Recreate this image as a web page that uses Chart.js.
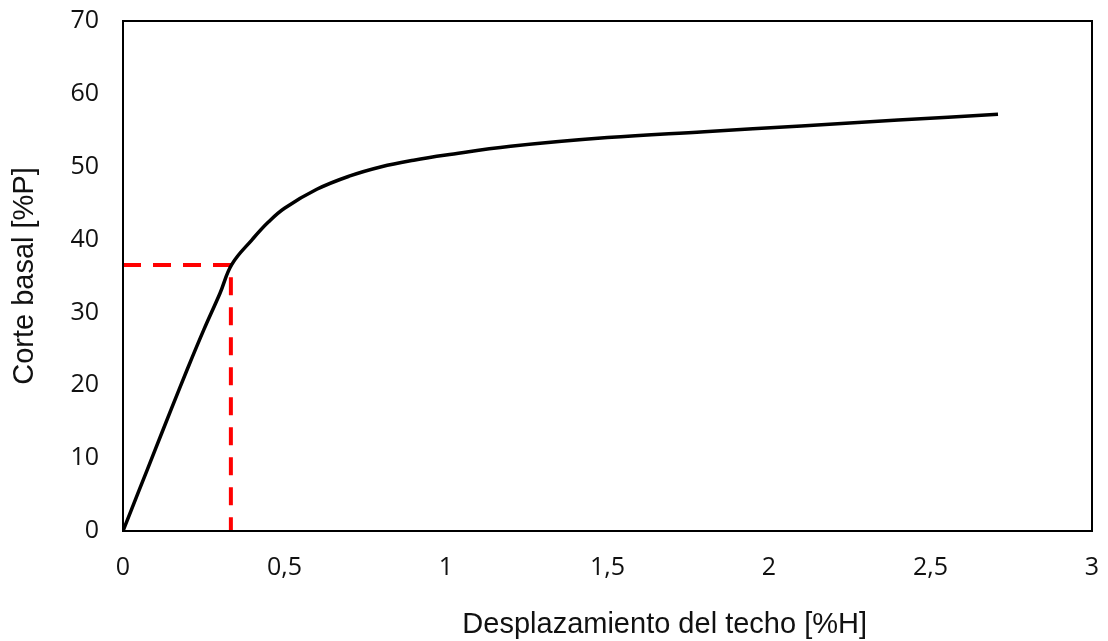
<!DOCTYPE html>
<html>
<head>
<meta charset="utf-8">
<script src="https://cdn.jsdelivr.net/npm/chart.js"></script>
<style>
  html, body { margin: 0; padding: 0; background: #fff; }
  #wrap { width: 1108px; height: 641px; }
</style>
</head>
<body>
<div id="wrap"><canvas id="curva"></canvas></div>
<script>
// curva de capacidad (pushover)
var desplazamiento = [0, 0.05, 0.1, 0.15, 0.2, 0.25, 0.3, 0.337, 0.4, 0.45, 0.5, 0.6, 0.7, 0.8, 0.9, 1.0, 1.2, 1.5, 1.8, 2.1, 2.4, 2.709];
var corte = [0, 5.6, 11.2, 16.8, 22.3, 27.6, 32.6, 36.6, 40.0, 42.4, 44.3, 46.9, 48.7, 50.0, 50.9, 51.6, 52.8, 54.0, 54.8, 55.6, 56.4, 57.2];
// punto de fluencia (linea roja)
var fluenciaX = [0, 0.334, 0.334];
var fluenciaY = [36.5, 36.5, 0];
var yTicks = [0, 10, 20, 30, 40, 50, 60, 70];
var xTicks = [0, 0.5, 1, 1.5, 2, 2.5, 3];
var tituloX = 'Desplazamiento del techo [%H]';

function toPoints(xs, ys) {
    var pts = [];
    for (var i = 0; i < xs.length; i++) {
        pts.push({ x: xs[i], y: ys[i] });
    }
    return pts;
}

var tickFont = "'Open Sans', sans-serif";
var titleFont = "'Liberation Sans', Arial, sans-serif";

// marco negro alrededor del area de trazado + titulo del eje x
// (en el original el titulo no esta centrado bajo el area)
var marco = {
    id: 'marco',
    afterDraw: function (chart) {
        var a = chart.chartArea;
        var ctx = chart.ctx;
        ctx.save();
        ctx.strokeStyle = '#000';
        ctx.lineWidth = 2;
        ctx.strokeRect(a.left, a.top, a.right - a.left, a.bottom - a.top);

        ctx.fillStyle = '#111';
        ctx.font = '29px ' + titleFont;
        ctx.textAlign = 'center';
        ctx.textBaseline = 'middle';
        var cx = a.left + (a.right - a.left) * 0.559;
        ctx.fillText(tituloX, cx, chart.height - 16);
        ctx.restore();
    }
};

function sinPadding(scale) {
    scale.paddingTop = 0;
    scale.paddingBottom = 0;
    scale.paddingLeft = 0;
    scale.paddingRight = 0;
}

var ctx = document.getElementById('curva').getContext('2d');
new Chart(ctx, {
    type: 'scatter',
    data: {
        datasets: [
            {
                data: toPoints(desplazamiento, corte),
                showLine: true,
                borderColor: '#000',
                borderWidth: 3.5,
                pointRadius: 0,
                tension: 0.4,
                fill: false
            },
            {
                data: toPoints(fluenciaX, fluenciaY),
                showLine: true,
                borderColor: '#ff0000',
                borderWidth: 4,
                borderDash: [18, 12],
                pointRadius: 0,
                tension: 0,
                fill: false
            }
        ]
    },
    options: {
        responsive: true,
        maintainAspectRatio: false,
        animation: false,
        layout: { padding: { top: 21, right: 16, left: 0, bottom: 0 } },
        plugins: {
            legend: { display: false },
            tooltip: { enabled: false }
        },
        scales: {
            x: {
                type: 'linear',
                min: 0,
                max: 3,
                afterBuildTicks: function (scale) {
                    scale.ticks = xTicks.map(function (v) { return { value: v }; });
                },
                afterFit: function (scale) {
                    scale.height = 110;
                    sinPadding(scale);
                },
                grid: { display: false, drawTicks: false },
                border: { display: false },
                ticks: {
                    color: '#111',
                    padding: 22,
                    font: { family: tickFont, size: 25 },
                    callback: function (v) { return String(v).replace('.', ','); }
                },
                title: { display: false }
            },
            y: {
                type: 'linear',
                min: 0,
                max: 70,
                afterBuildTicks: function (scale) {
                    scale.ticks = yTicks.map(function (v) { return { value: v }; });
                },
                afterFit: function (scale) {
                    scale.width = 123;
                    sinPadding(scale);
                },
                grid: { display: false, drawTicks: false },
                border: { display: false },
                ticks: {
                    color: '#111',
                    padding: 24,
                    font: { family: tickFont, size: 25 }
                },
                title: {
                    display: true,
                    text: 'Corte basal [%P]',
                    color: '#111',
                    font: { family: titleFont, size: 29 },
                    padding: { top: 8, bottom: 0 }
                }
            }
        }
    },
    plugins: [marco]
});
</script>
</body>
</html>
